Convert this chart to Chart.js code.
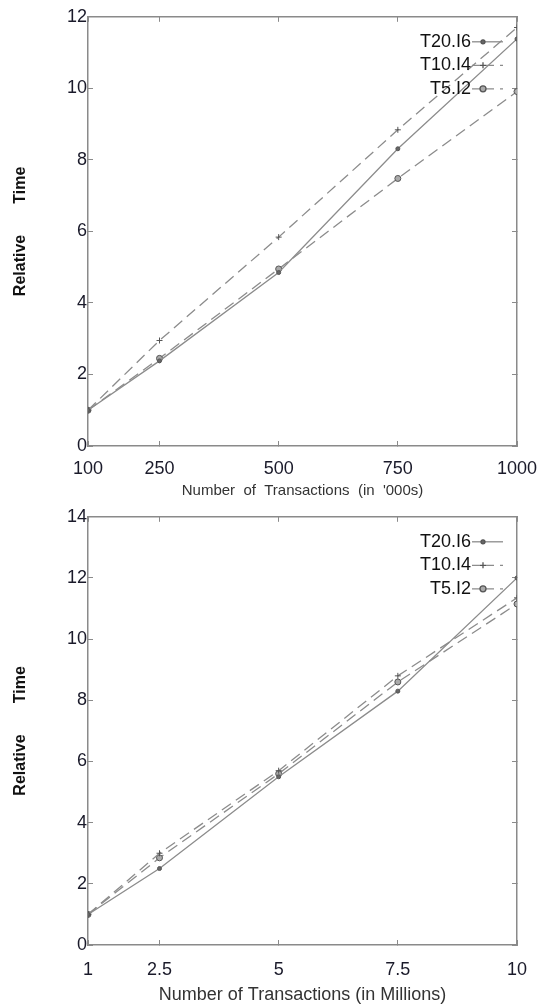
<!DOCTYPE html>
<html>
<head>
<meta charset="utf-8">
<script src="https://cdn.jsdelivr.net/npm/chart.js@4.4.1/dist/chart.umd.min.js"></script>
<style>
  body { margin: 0; background: #fff; }
  #wrap { position: relative; width: 543px; height: 1006px; }
  #c1 { position: absolute; left: 0; top: 0; }
  #c2 { position: absolute; left: 0; top: 500px; }
</style>
</head>
<body>
<div id="wrap">
  <canvas id="c1" width="543" height="500"></canvas>
  <canvas id="c2" width="543" height="506"></canvas>
</div>
<script>
const seriesNames = ["T20.I6", "T10.I4", "T5.I2"];

// top chart: thousands of transactions
const xTop = [100, 250, 500, 750, 1000];
const t20Top = [1, 2.38, 4.85, 8.31, 11.38];
const t10Top = [1, 2.95, 5.84, 8.84, 11.70];
const t5Top = [1, 2.45, 4.95, 7.48, 9.91];

// bottom chart: millions of transactions
const xBottom = [1, 2.5, 5, 7.5, 10];
const xBottomLabels = ["1", "2.5", "5", "7.5", "10"];
const t20Bottom = [1, 2.5, 5.5, 8.3, 12.0];
const t10Bottom = [1, 3.0, 5.7, 8.8, 11.35];
const t5Bottom = [1, 2.85, 5.6, 8.6, 11.15];

const FONT = "'Liberation Sans', Arial, sans-serif";
const AXIS = "#8a8a8a";
const LINE = "#8c8c8c";

const styles = [
  { dash: [], point: "circle", radius: 2, fill: "#666" },
  { dash: [11, 6], point: "cross", radius: 3, fill: "#666" },
  { dash: [11, 6], point: "circle", radius: 3, fill: "#aaa" }
];

function makeSets(xs, a, b, c) {
  return [a, b, c].map((vals, i) => ({
    label: seriesNames[i],
    data: xs.map((x, j) => ({ x: x, y: vals[j] })),
    borderColor: LINE,
    borderWidth: 1.3,
    borderDash: styles[i].dash,
    pointStyle: styles[i].point,
    pointRadius: styles[i].radius,
    pointBackgroundColor: styles[i].fill,
    pointBorderColor: "#555",
    pointBorderWidth: 1,
    tension: 0
  }));
}

// legend drawn inside the plot, text first then the line sample
const boxLegend = {
  id: "boxLegend",
  afterDatasetsDraw(chart) {
    const { ctx, chartArea } = chart;
    ctx.save();
    ctx.font = "18px " + FONT;
    ctx.textAlign = "right";
    ctx.textBaseline = "middle";
    chart.data.datasets.forEach((ds, i) => {
      const y = chartArea.top + 25 + i * 23.5;
      const xt = chartArea.right - 46;
      ctx.fillStyle = "#111";
      ctx.fillText(ds.label, xt, y);
      ctx.strokeStyle = LINE;
      ctx.lineWidth = 1.3;
      ctx.setLineDash(ds.borderDash.length ? [8, 6] : []);
      ctx.beginPath();
      ctx.moveTo(xt + 1, y);
      ctx.lineTo(chartArea.right - 14, y);
      ctx.stroke();
      ctx.setLineDash([]);
      const px = chartArea.right - 34;
      ctx.strokeStyle = "#555";
      ctx.fillStyle = ds.pointBackgroundColor;
      if (ds.pointStyle === "cross") {
        ctx.beginPath();
        ctx.moveTo(px - 3, y); ctx.lineTo(px + 3, y);
        ctx.moveTo(px, y - 3); ctx.lineTo(px, y + 3);
        ctx.stroke();
      } else {
        ctx.beginPath();
        ctx.arc(px, y, ds.pointRadius, 0, Math.PI * 2);
        ctx.fill();
        ctx.stroke();
      }
    });
    ctx.restore();
  }
};

function makeChart(id, sets, xs, xLabels, yMax, xTitle, xTitleFont, axisH, tickPad) {
  const setTicks = s => { s.ticks = xs.map(v => ({ value: v })); };
  const gridOpt = { drawOnChartArea: false, drawTicks: true, tickLength: -5, color: AXIS, lineWidth: 1 };
  const borderOpt = { display: true, color: AXIS, width: 1.5 };
  return new Chart(document.getElementById(id), {
    type: "line",
    data: { datasets: sets },
    options: {
      responsive: false,
      animation: false,
      layout: { padding: { top: 5, right: 26, left: 0, bottom: 0 } },
      plugins: { legend: { display: false }, tooltip: { enabled: false } },
      scales: {
        x: {
          type: "linear", position: "bottom",
          min: xs[0], max: xs[xs.length - 1],
          afterBuildTicks: setTicks,
          afterFit: s => { s.height = axisH; s.paddingRight = 0; s.paddingLeft = 0; },
          grid: gridOpt, border: borderOpt,
          ticks: {
            padding: tickPad, color: "#1a1a2a", maxRotation: 0, autoSkip: false,
            font: { family: FONT, size: 18 },
            callback: (v, i) => xLabels[i]
          },
          title: { display: true, text: xTitle, color: "#333", padding: 0, font: xTitleFont }
        },
        x2: {
          type: "linear", position: "top",
          min: xs[0], max: xs[xs.length - 1],
          afterBuildTicks: setTicks,
          afterFit: s => { s.height = 0; s.paddingRight = 0; s.paddingLeft = 0; },
          grid: gridOpt, border: borderOpt,
          ticks: { display: false }
        },
        y: {
          min: 0, max: yMax,
          afterFit: s => { s.width = 88; },
          grid: gridOpt, border: borderOpt,
          ticks: {
            stepSize: 2, padding: 6, color: "#1a1a2a",
            font: { family: FONT, size: 18 }
          },
          title: {
            display: true, text: "Relative       Time", color: "#111",
            padding: { top: 11, bottom: 0 },
            font: { family: FONT, size: 16, weight: "bold" }
          }
        },
        y2: {
          position: "right",
          min: 0, max: yMax,
          afterFit: s => { s.width = 0; },
          grid: gridOpt, border: borderOpt,
          ticks: { display: false, stepSize: 2 }
        }
      }
    },
    plugins: [boxLegend]
  });
}

makeChart("c1", makeSets(xTop, t20Top, t10Top, t5Top), xTop, xTop.map(String), 12,
  "Number  of  Transactions  (in  '000s)", { family: FONT, size: 15 }, 54, 17);

makeChart("c2", makeSets(xBottom, t20Bottom, t10Bottom, t5Bottom), xBottom, xBottomLabels, 14,
  "Number of Transactions (in Millions)", { family: FONT, size: 18 }, 61, 19);
</script>
</body>
</html>
